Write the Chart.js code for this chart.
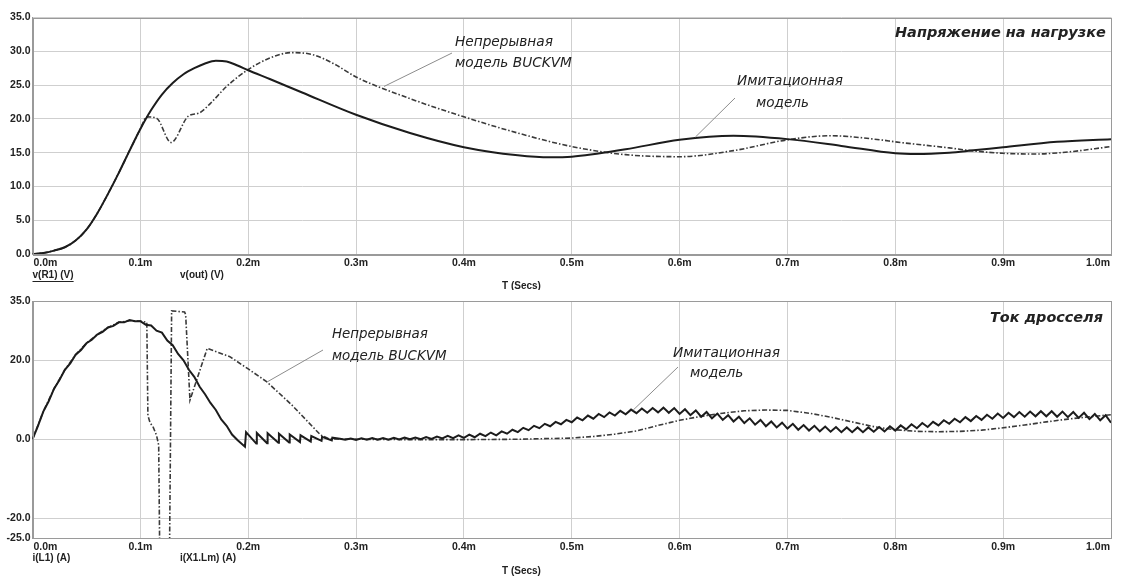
<!DOCTYPE html>
<html><head><meta charset="utf-8">
<script src="https://cdn.jsdelivr.net/npm/chart.js@4/dist/chart.umd.min.js"></script>
<style>
html,body{margin:0;padding:0;background:#fff;width:1123px;height:576px;overflow:hidden}
#c1{position:absolute;left:0;top:0}
#c2{position:absolute;left:0;top:290px}
</style></head><body>
<canvas id="c1" width="1123" height="290"></canvas>
<canvas id="c2" width="1123" height="286"></canvas>
<script>
// ---------- DATA (time in ms) ----------
const xTicks = [0,0.1,0.2,0.3,0.4,0.5,0.6,0.7,0.8,0.9,1.0];
const topYTicks = [0,5,10,15,20,25,30,35];
const botYTicks = [35,20,0,-20,-25];

// top panel: v(R1) (V) - Имитационная модель (solid)
const vR1_t = [0,0.01,0.02,0.03,0.04,0.05,0.06,0.07,0.08,0.09,0.10,0.11,0.12,0.13,0.14,0.15,0.16,0.17,0.18,0.19,0.20,0.22,0.25,0.30,0.35,0.40,0.45,0.48,0.50,0.55,0.60,0.65,0.70,0.75,0.80,0.82,0.85,0.87,0.90,0.95,1.0];
const vR1   = [0,0.15,0.5,1.0,2.0,3.6,6.0,8.9,12.0,15.3,18.5,21.3,23.6,25.3,26.6,27.5,28.2,28.6,28.5,27.9,27.2,25.9,23.9,20.6,17.9,15.8,14.6,14.3,14.4,15.5,16.9,17.5,17.0,16.0,14.9,14.8,15.0,15.3,15.8,16.6,17.0];

// top panel: v(out) (V) - Непрерывная модель BUCKVM (dash-dot)
const vOut_t = [0,0.01,0.02,0.03,0.04,0.05,0.06,0.07,0.08,0.09,0.10,0.106,0.115,0.1285,0.1445,0.155,0.165,0.18,0.20,0.22,0.24,0.26,0.28,0.30,0.35,0.40,0.45,0.50,0.55,0.60,0.65,0.70,0.74,0.786,0.80,0.85,0.87,0.90,0.93,0.96,1.0];
const vOut   = [0,0.15,0.5,1.0,2.0,3.6,6.0,8.9,12.0,15.3,18.5,20.3,20.1,16.5,20.4,20.9,22.3,24.8,27.3,29.0,29.8,29.5,28.1,26.2,23.0,20.3,17.9,15.9,14.7,14.4,15.3,16.9,17.5,16.9,16.6,15.7,15.3,14.9,14.8,15.1,15.9];

// bottom panel: i(L1) (A) - Имитационная модель (solid)
const iL1_t = [0,0.005,0.01,0.015,0.02,0.025,0.03,0.035,0.04,0.045,0.05,0.055,0.06,0.065,0.07,0.075,0.08,0.085,0.09,0.095,0.10,0.105,0.11,0.115,0.12,0.125,0.13,0.135,0.14,0.145,0.15,0.155,0.16,0.165,0.17,0.175,0.18,0.185,0.19,0.197,
 0.198,0.2075,0.208,0.2175,0.218,0.228,0.2285,0.238,0.2385,0.248,0.2485,0.258,0.2585,0.268,0.2685,0.2775,0.278,
 0.285,0.29,0.295,0.30,0.305,0.31,0.315,0.32,0.325,0.33,0.335,0.34,0.345,0.35,0.355,0.36,0.365,0.37,0.375,0.38,0.385,0.39,0.395,
 0.40,0.405,0.41,0.415,0.42,0.425,0.43,0.435,0.44,0.445,0.45,0.455,0.46,0.465,0.47,0.475,0.48,0.485,0.49,0.495,
 0.50,0.505,0.51,0.515,0.52,0.525,0.53,0.535,0.54,0.545,0.55,0.555,0.56,0.565,0.57,0.575,0.58,0.585,0.59,0.595,
 0.60,0.605,0.61,0.615,0.62,0.625,0.63,0.635,0.64,0.645,0.65,0.655,0.66,0.665,0.67,0.675,0.68,0.685,0.69,0.695,
 0.70,0.705,0.71,0.715,0.72,0.725,0.73,0.735,0.74,0.745,0.75,0.755,0.76,0.765,0.77,0.775,0.78,0.785,0.79,0.795,
 0.80,0.805,0.81,0.815,0.82,0.825,0.83,0.835,0.84,0.845,0.85,0.855,0.86,0.865,0.87,0.875,0.88,0.885,0.89,0.895,
 0.90,0.905,0.91,0.915,0.92,0.925,0.93,0.935,0.94,0.945,0.95,0.955,0.96,0.965,0.97,0.975,0.98,0.985,0.99,0.995,1.0];
const iL1 = [0,3.3,7.0,9.6,12.8,15.0,17.6,19.2,21.4,22.6,24.3,25.2,26.5,27.2,28.3,28.7,29.6,29.6,30.2,29.9,29.9,29.0,28.8,27.5,27.0,25.0,23.8,21.6,20.0,17.6,15.8,13.3,11.4,9.2,7.4,5.0,3.4,1.2,-0.2,-1.9,
 1.8,-1.1,1.6,-1.0,1.5,-0.9,1.4,-0.8,1.2,-0.7,1.0,-0.6,0.8,-0.4,0.6,-0.3,0.4,
 0.15,-0.15,0.2,-0.15,0.25,-0.1,0.3,-0.1,0.3,-0.1,0.35,-0.05,0.4,0.0,0.45,0.0,0.55,0.1,0.7,0.2,0.85,0.3,1.0,
 0.35,1.15,0.5,1.4,0.8,1.7,1.0,2.0,1.4,2.4,1.8,2.9,2.3,3.4,2.8,3.9,3.3,4.4,3.8,4.9,
 4.3,5.5,4.8,6.0,5.2,6.4,5.6,6.8,6.0,7.2,6.3,7.5,6.6,7.8,6.7,7.9,6.8,8.0,6.7,7.9,
 6.4,7.6,6.1,7.3,5.7,6.9,5.3,6.5,4.9,6.1,4.5,5.7,4.1,5.3,3.7,4.9,3.3,4.5,3.0,4.2,
 2.7,3.9,2.4,3.6,2.2,3.4,2.0,3.2,1.9,3.1,1.8,3.0,1.8,3.0,1.8,3.0,1.9,3.1,2.0,3.3,
 2.2,3.5,2.5,3.8,2.8,4.1,3.1,4.4,3.5,4.8,3.9,5.2,4.3,5.6,4.6,5.9,4.9,6.2,5.2,6.5,
 5.4,6.7,5.6,6.9,5.7,7.0,5.8,7.1,5.8,7.1,5.7,7.0,5.6,6.9,5.4,6.7,5.1,6.4,4.8,6.1,4.2];

// bottom panel: i(X1.Lm) (A) - Непрерывная модель BUCKVM (dash-dot)
const iLm_t = [0,0.01,0.02,0.03,0.04,0.05,0.06,0.07,0.08,0.09,0.10,0.106,0.107,0.109,0.112,0.115,0.117,0.118,0.127,0.129,0.141,0.142,0.146,0.162,0.183,0.20,0.217,0.24,0.267,0.275,0.30,0.35,0.40,0.45,0.50,0.52,0.54,0.56,0.58,0.60,0.62,0.64,0.66,0.68,0.70,0.72,0.74,0.76,0.78,0.80,0.82,0.84,0.86,0.88,0.90,0.92,0.94,0.96,0.98,1.0];
const iLm   = [0,7.0,12.8,17.6,21.4,24.3,26.5,28.3,29.6,30.0,29.9,29.6,6.0,4.2,3.0,1.0,-1.5,-30,-30,32.5,32.2,31.6,9.9,23.0,20.9,17.8,14.6,8.8,1.1,0.1,0.0,-0.1,-0.1,0.0,0.3,0.7,1.3,2.1,3.5,4.8,5.8,6.6,7.2,7.4,7.3,6.6,5.6,4.4,3.2,2.4,2.0,1.9,2.0,2.3,2.9,3.6,4.4,5.1,5.7,6.2];

// ---------- helpers ----------
function pts(t, v){ const n=Math.min(t.length,v.length); const a=[]; for(let i=0;i<n;i++) a.push({x:t[i],y:v[i]}); return a; }
const TXT = '#222';
const GRID = '#cfcfcf';
const tickFont = {family:'"Liberation Sans", Arial, sans-serif', size:10.5, weight:'bold'};

function fitFont(ctx, text, width, weight){
  ctx.font = `${weight} italic 20px "DejaVu Sans"`;
  const w = ctx.measureText(text).width;
  return 20*width/w;
}
function drawLines(ctx, lines, weight){
  // lines: [text, xLeft, yCenter, width]
  const size = fitFont(ctx, lines[0][0], lines[0][3], weight);
  ctx.font = `${weight} italic ${size.toFixed(2)}px "DejaVu Sans"`;
  ctx.fillStyle = TXT; ctx.textAlign='left'; ctx.textBaseline='middle';
  lines.forEach(l=>ctx.fillText(l[0], l[1], l[2]));
}
function leader(ctx, x1, y1, x2, y2){
  ctx.save(); ctx.strokeStyle='#8c8c8c'; ctx.lineWidth=1;
  ctx.beginPath(); ctx.moveTo(x1,y1); ctx.lineTo(x2,y2); ctx.stroke(); ctx.restore();
}

function makePlugin(cfg){
  return {
    id:'deco',
    afterDraw(chart){
      const ctx = chart.ctx, a = chart.chartArea, xs = chart.scales.x, ys = chart.scales.y;
      ctx.save();
      // frame
      ctx.strokeStyle='#9a9a9a'; ctx.lineWidth=1;
      ctx.strokeRect(Math.round(a.left)+0.5, Math.round(a.top)+0.5, Math.round(a.right-a.left)-1, Math.round(a.bottom-a.top));
      // x tick labels
      ctx.font = `bold 10.5px "Liberation Sans", Arial, sans-serif`;
      ctx.fillStyle = TXT; ctx.textBaseline='middle';
      const tk = xs.ticks;
      tk.forEach((t,i)=>{
        const px = xs.getPixelForValue(t.value);
        const lab = t.value.toFixed(1)+'m';
        if(i===0){ctx.textAlign='left'; ctx.fillText(lab, px+1, cfg.tickY);}
        else if(i===tk.length-1){ctx.textAlign='right'; ctx.fillText(lab, px-1, cfg.tickY);}
        else {ctx.textAlign='center'; ctx.fillText(lab, px, cfg.tickY);}
      });
      // trace names and axis title
      ctx.textAlign='left';
      ctx.font = `bold 10px "Liberation Sans", Arial, sans-serif`;
      ctx.fillText(cfg.name1, a.left, cfg.nameY);
      if(cfg.underline){
        const w = ctx.measureText(cfg.name1).width;
        ctx.fillRect(a.left, cfg.nameY+6, w, 1);
      }
      ctx.fillText(cfg.name2, 180, cfg.nameY);
      ctx.fillText('T (Secs)', 502, cfg.axisY);
      // annotations
      drawLines(ctx, cfg.title, 'bold');
      drawLines(ctx, cfg.ann1, 'normal');
      drawLines(ctx, cfg.ann2, 'normal');
      leader(ctx, cfg.lead1[0], cfg.lead1[1], xs.getPixelForValue(cfg.lead1[2]), ys.getPixelForValue(cfg.lead1[3]));
      leader(ctx, cfg.lead2[0], cfg.lead2[1], xs.getPixelForValue(cfg.lead2[2]), ys.getPixelForValue(cfg.lead2[3]));
      ctx.restore();
    }
  };
}

function makeChart(id, H, bottom, top, ymin, ymax, yTicks, d1, d2, cfg){
  return new Chart(document.getElementById(id), {
    type:'line',
    data:{datasets:[
      {data:d1, borderColor:'#1c1c1c', borderWidth:2, pointRadius:0, tension:cfg.tension, cubicInterpolationMode:cfg.cim, fill:false},
      {data:d2, borderColor:'#3a3a3a', borderWidth:1.6, borderDash:[5,2,1.5,2], pointRadius:0, tension:cfg.tension, cubicInterpolationMode:cfg.cim, fill:false}
    ]},
    options:{
      responsive:false, animation:false, events:[],
      layout:{padding:{left:0.5, right:12, top:top, bottom:0}},
      plugins:{legend:{display:false}, tooltip:{enabled:false}},
      scales:{
        x:{type:'linear', min:0, max:1,
           afterBuildTicks:s=>{s.ticks = xTicks.map(v=>({value:v}));},
           ticks:{display:false},
           grid:{color:GRID, drawTicks:false, lineWidth:1},
           border:{color:'#9a9a9a'},
           afterFit:s=>{s.height = H-bottom;}},
        y:{type:'linear', min:ymin, max:ymax,
           afterBuildTicks:s=>{s.ticks = yTicks.map(v=>({value:v}));},
           ticks:{font:tickFont, color:TXT, padding:2, callback:v=>Number(v).toFixed(1)},
           grid:{color:GRID, drawTicks:false, lineWidth:1},
           border:{color:'#9a9a9a'},
           afterFit:s=>{s.width = 32;}}
      }
    },
    plugins:[makePlugin(cfg)]
  });
}

makeChart('c1', 290, 254, 17.5, 0, 35, topYTicks, pts(vR1_t, vR1), pts(vOut_t, vOut), {
  tension:0.4, cim:'monotone',
  tickY:263, nameY:275, axisY:286, name1:'v(R1) (V)', name2:'v(out) (V)', underline:true,
  title:[['Напряжение на нагрузке', 895, 33, 211]],
  ann1:[['Непрерывная', 455, 42, 98], ['модель BUCKVM', 455, 63, 120]],
  ann2:[['Имитационная', 737, 81, 106], ['модель', 756, 103, 54]],
  lead1:[452, 53, 0.326, 24.8],
  lead2:[735, 98, 0.6146, 17.3]
});

makeChart('c2', 286, 248, 11, -25, 35, botYTicks, pts(iL1_t, iL1), pts(iLm_t, iLm), {
  tension:0, cim:'default',
  tickY:257, nameY:268, axisY:281, name1:'i(L1) (A)', name2:'i(X1.Lm) (A)', underline:false,
  title:[['Ток дросселя', 990, 28, 113]],
  ann1:[['Непрерывная', 332, 45, 96], ['модель BUCKVM', 332, 67, 118]],
  ann2:[['Имитационная', 673, 63, 107], ['модель', 690, 83, 55]],
  lead1:[323, 60, 0.2175, 14.5],
  lead2:[678, 77, 0.557, 7.4]
});
</script>
</body></html>
